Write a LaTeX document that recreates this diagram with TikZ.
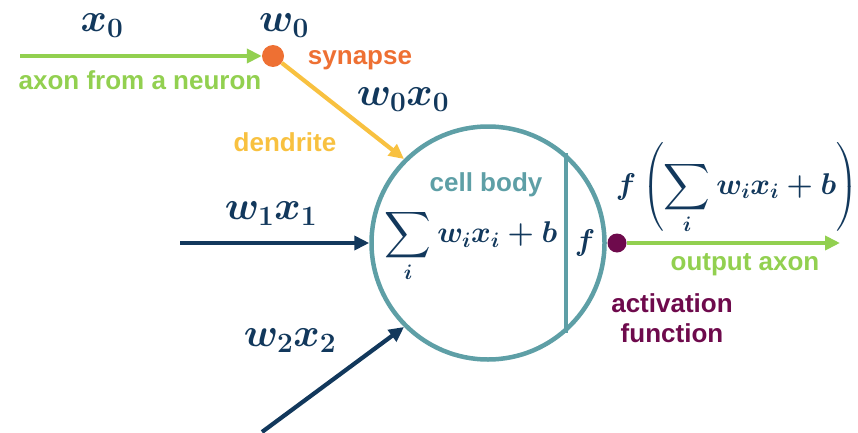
\RequirePackage{fix-cm}
\documentclass[tikz,border=0pt]{standalone}
\usepackage{amsmath}
\usepackage{graphicx}
\usepackage{fontspec}
\setsansfont{Liberation Sans}
\usetikzlibrary{arrows.meta}
\definecolor{cgreen}{HTML}{92D050}
\definecolor{corange}{HTML}{EE7033}
\definecolor{cyellow}{HTML}{F8C140}
\definecolor{cnavy}{HTML}{12385C}
\definecolor{cteal}{HTML}{5E9FA6}
\definecolor{cpurple}{HTML}{6E0A4C}
\newcommand{\bsum}{\mathop{\vcenter{\hbox{\scalebox{1.3}{$\displaystyle\sum$}}}}\limits}
\tikzset{
  conn/.style={line width=4.2pt,-{Triangle[length=15pt,width=14pt]}},
  lbl/.style={font=\sffamily\bfseries\fontsize{26}{29}\selectfont,inner sep=0},
  mth/.style={text=cnavy,font=\fontsize{30}{34}\selectfont\boldmath,inner sep=0},
  mthl/.style={text=cnavy,font=\fontsize{40}{44}\selectfont\boldmath,inner sep=0},
  dot/.style={circle,inner sep=0,minimum size=#1},
}
\begin{document}
\begin{tikzpicture}[x=1pt,y=-1pt]
\useasboundingbox (0,0) rectangle (858,433);
% cell body
\node[circle,draw=cteal,line width=4.5pt,minimum size=233pt,inner sep=0] (body) at (488,243) {};
\draw[cteal,line width=4.5pt] (body.49) -- (body.-49);
% synapse and input axon
\node[dot=22pt,fill=corange] (syn) at (273,56) {};
\coordinate (a0) at (20,56);
\draw[conn,cgreen] (a0) -- (syn.west);
\draw[conn,cyellow] (syn) -- (body.135);
% other inputs
\coordinate (a1) at (180,243);
\draw[conn,cnavy] (a1) -- (body.west);
\coordinate (a2) at (262,432);
\draw[conn,cnavy] (a2) -- (body.225);
% activation
\node[dot=19pt,fill=cpurple] (act) at (617,243) {};
\coordinate (out) at (840,243);
\draw[conn,cgreen] (act.east) -- (out);
% labels
\node[mthl] (lx0) at (102,26) {$x_0$};
\node[mthl] (lw0) at (284,26) {$w_0$};
\node[lbl,text=corange] (lsyn) at (360,60) {synapse};
\node[lbl,text=cgreen] (lax) at (140,80) {axon from a neuron};
\node[mthl] (lw0x0) at (403,100) {$w_0x_0$};
\node[lbl,text=cyellow] (lden) at (285,142) {dendrite};
\node[mthl] (lw1x1) at (271,214) {$w_1x_1$};
\node[mthl] (lw2x2) at (290,341) {$w_2x_2$};
\node[lbl,text=cteal] (lcell) at (486,185) {cell body};
\node[mth] (lsum) at (471,246) {$\bsum_i w_ix_i+b$};
\node[mth] (lf) at (585,243) {$f$};
\node[mth] (lout) at (737,188) {$f\left(\bsum_i w_ix_i+b\right)$};
\node[lbl,text=cgreen] (loa) at (745,265) {output axon};
\node[lbl,text=cpurple,align=center,font=\sffamily\bfseries\fontsize{26}{30}\selectfont] (lact) at (672,318) {activation\\function};
\end{tikzpicture}
\end{document}
